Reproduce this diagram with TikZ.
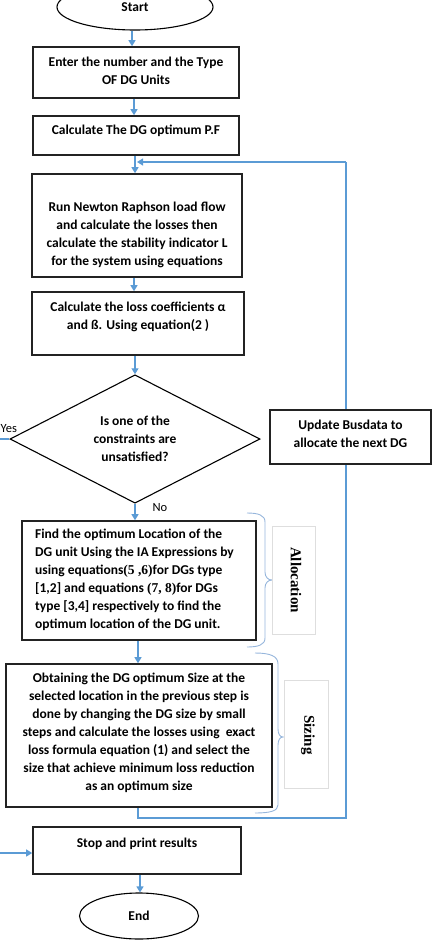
\documentclass[tikz,border=0pt]{standalone}
\usepackage{fontspec}
\setmainfont{Carlito}
\newfontfamily\eqfont{Liberation Serif}
\usetikzlibrary{arrows.meta,shapes.geometric}

\definecolor{flowblue}{RGB}{91,155,213}
\definecolor{bracecol}{RGB}{150,182,220}
\definecolor{framegray}{RGB}{222,222,222}
\definecolor{boxline}{RGB}{35,35,35}

\begin{document}
\begin{tikzpicture}[x=1pt,y=-1pt,
  stepbox/.style={draw=boxline,line width=1.6pt,fill=white,inner sep=0pt},
  txt/.style={font=\fontsize{13.5}{18}\selectfont\bfseries,align=center,inner sep=0pt},
  terminal/.style={ellipse,draw=black,line width=1.1pt,fill=white,inner sep=0pt,
    font=\fontsize{13.5}{18}\selectfont\bfseries},
  decision/.style={diamond,draw=black,line width=1.1pt,fill=white,inner sep=0pt,
    font=\fontsize{13.5}{18}\selectfont\bfseries,align=center},
  flow/.style={draw=flowblue,line width=1.2pt,-{Triangle[length=6pt,width=7pt]}},
  loopline/.style={draw=flowblue,line width=1.2pt},
  brace/.style={draw=bracecol,line width=0.9pt},
  tagbox/.style={draw=framegray,line width=0.6pt,fill=white},
  tag/.style={font=\fontsize{15}{18}\selectfont\eqfont\bfseries,rotate=-90,inner sep=0pt},
  lbl/.style={font=\fontsize{12.5}{15}\selectfont,inner sep=0pt}]

\useasboundingbox (0,0) rectangle (444,940);
\clip (0,0) rectangle (444,940);

% terminals
\node[terminal,minimum width=156pt,minimum height=46pt] (start) at (135,7) {Start};
\node[terminal,minimum width=119pt,minimum height=46pt] (end) at (139,916) {End};

% process boxes
\node[stepbox,minimum width=206pt,minimum height=51pt] (b1) at (136,72.5) {};
\node[txt] (b1t) at (136,71) {Enter the number and the Type\\OF DG Units};

\node[stepbox,minimum width=206pt,minimum height=39pt] (b2) at (136,135.5) {};
\node[txt] (b2t) at (136,131) {Calculate The DG optimum P.F};

\node[stepbox,minimum width=210pt,minimum height=103pt] (b3) at (137,225.5) {};
\node[txt] (b3t) at (137,234.5) {Run Newton Raphson load flow\\and calculate the losses then\\calculate the stability indicator L\\for the system using equations};

\node[stepbox,minimum width=212pt,minimum height=63pt] (b4) at (138,323.5) {};
\node[txt] (b4t) at (138,317) {Calculate the loss coefficients α\\and ß. Using equation(2 )};

\node[decision,minimum width=250pt,minimum height=126pt] (dec) at (135,439)
  {Is one of the\\constraints are\\unsatisfied?};

\node[stepbox,minimum width=234pt,minimum height=119pt] (b5) at (139,580.5) {};
\node[txt,align=left,anchor=west] (b5t) at (35,580)
  {Find the optimum Location of the\\DG unit Using the IA Expressions by\\using equations{\eqfont(5 ,6)}for DGs type\\{[1,2]} and equations {\eqfont(7, 8)}for DGs\\type [3,4] respectively to find the\\optimum location of the DG unit.};

\node[stepbox,minimum width=266pt,minimum height=143pt] (b6) at (139,735.5) {};
\node[txt] (b6t) at (139,732.5)
  {Obtaining the DG optimum Size at the\\selected location in the previous step is\\done by changing the DG size by small\\steps and calculate the losses using\ \ exact\\loss formula equation (1) and select the\\size that achieve minimum loss reduction\\as an optimum size};

\node[stepbox,minimum width=208pt,minimum height=47pt] (stop) at (137,850.5) {};
\node[txt] (stopt) at (137,844) {Stop and print results};

% main downward flow
\draw[flow] (start.south -| 132,0) -- (b1.north -| 132,0);
\draw[flow] (b1.south -| 134,0) -- (b2.north -| 134,0);
\draw[flow] (b2.south -| 135,0) -- (b3.north -| 135,0);
\draw[flow] (b3.south -| 134,0) -- (b4.north -| 134,0);
\draw[flow] (b4.south -| 135,0) -- (dec.north);
\draw[flow] (dec.south) -- (b5.north -| dec.south);
\draw[flow] (b5.south -| 138,0) -- (b6.north -| 138,0);
\draw[flow] (stop.south -| 140,0) -- (end.north -| 140,0);

% "Yes" branch leaves to the left and returns to the stop box
\coordinate (yesout) at (-12,439);
\coordinate (yesback) at (-12,853);
\draw[flow] (dec.west) -- (yesout) -- (yesback) -- (yesback -| stop.west);
\node[lbl,anchor=south west] (yes) at (0.5,433) {Yes};
\node[lbl] (no) at (160,508) {No};

% feedback loop through the bus-data update
\coordinate (loopdown) at (138,818);
\coordinate (loopright) at (346,818);
\coordinate (looptop) at (346,162);
\draw[loopline] (b6.south -| loopdown) -- (loopdown) -- (loopright) -- (looptop);
\draw[flow] (looptop) -- (137,162);

\node[stepbox,minimum width=161pt,minimum height=54pt] (upd) at (350.5,437) {};
\node[txt] (updt) at (350.5,434) {Update Busdata to\\allocate the next DG};

% phase braces and tags
\draw[brace] (247,513) .. controls (258,513) and (265,515) .. (265,522) -- (265,572)
  .. controls (265,577) and (268,580) .. (272,580)
  .. controls (268,580) and (265,583) .. (265,588) -- (265,638)
  .. controls (265,645) and (258,647) .. (247,647);
\draw[brace] (255,653) .. controls (270,653) and (278,656) .. (278,664) -- (278,729)
  .. controls (278,734) and (280,737) .. (283,737)
  .. controls (280,737) and (278,740) .. (278,745) -- (278,805)
  .. controls (278,811) and (270,813) .. (255,813);

\node[tagbox,minimum width=43pt,minimum height=108pt,inner sep=0pt] (allocbox) at (293.5,580) {};
\node[tag] (alloc) at (296,580) {Allocation};
\node[tagbox,minimum width=44pt,minimum height=108pt,inner sep=0pt] (sizebox) at (306,734) {};
\node[tag] (sizing) at (308,735) {Sizing};

\end{tikzpicture}
\end{document}
